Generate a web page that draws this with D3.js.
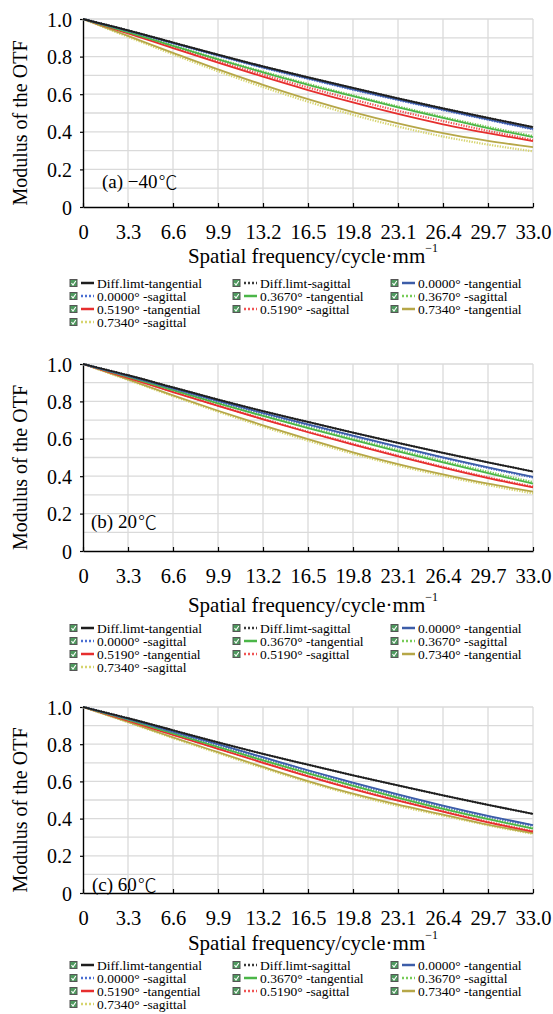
<!DOCTYPE html>
<html><head><meta charset="utf-8">
<script src="https://cdn.jsdelivr.net/npm/d3@7"></script>
<style>html,body{margin:0;padding:0;background:#fff;}svg{display:block;}
svg text{font-family:"Liberation Serif","Tinos","Times New Roman",serif;}</style>
</head><body>
<script>
// ---------- DATA ----------
const freq = [0, 3.3, 6.6, 9.9, 13.2, 16.5, 19.8, 23.1, 26.4, 29.7, 33.0];
const xTickLabels = ["0","3.3","6.6","9.9","13.2","16.5","19.8","23.1","26.4","29.7","33.0"];
const yTickValues = [0, 0.2, 0.4, 0.6, 0.8, 1.0];
const yTickLabels = ["0","0.2","0.4","0.6","0.8","1.0"];
const seriesNames = ["Diff.limt-tangential","Diff.limt-sagittal","0.0000° -tangential",
  "0.0000° -sagittal","0.3670° -tangential","0.3670° -sagittal",
  "0.5190° -tangential","0.5190° -sagittal","0.7340° -tangential","0.7340° -sagittal"];
const panelLabels = ["(a) \u221240", "(b) 20", "(c) 60"];
const degreeUnit = "\u2103";

// diffraction limit (same in all panels)
const diffT = [1, .94, .875, .81, .748, .69, .633, .578, .525, .474, .425];
const diffS = [1, .94, .875, .81, .748, .69, .633, .578, .525, .474, .425];

// (a) -40 C
const a000T = [1, .938, .872, .806, .743, .684, .626, .571, .518, .466, .415];
const a000S = [1, .937, .871, .805, .741, .682, .624, .569, .516, .464, .413];
const a367T = [1, .930, .857, .785, .716, .650, .590, .530, .474, .420, .372];
const a367S = [1, .931, .859, .788, .720, .655, .594, .535, .479, .426, .378];
const a519T = [1, .924, .845, .768, .693, .622, .556, .495, .440, .393, .350];
const a519S = [1, .927, .851, .776, .704, .636, .572, .512, .457, .405, .357];
const a734T = [1, .910, .820, .732, .650, .574, .505, .445, .393, .352, .318];
const a734S = [1, .905, .812, .722, .638, .560, .490, .428, .375, .332, .296];

// (b) 20 C
const b000T = [1, .937, .870, .803, .738, .677, .617, .558, .501, .447, .396];
const b000S = [1, .936, .869, .801, .736, .674, .614, .555, .498, .444, .393];
const b367T = [1, .932, .860, .790, .722, .657, .594, .533, .474, .416, .360];
const b367S = [1, .933, .862, .793, .726, .662, .600, .540, .481, .424, .368];
const b519T = [1, .926, .850, .776, .704, .635, .569, .506, .446, .390, .340];
const b519S = [1, .927, .852, .778, .707, .638, .573, .510, .450, .394, .344];
const b734T = [1, .918, .832, .750, .672, .598, .528, .465, .410, .360, .318];
const b734S = [1, .915, .828, .745, .665, .590, .520, .457, .402, .352, .308];

// (c) 60 C
const c000T = [1, .937, .868, .800, .730, .660, .594, .530, .470, .415, .365];
const c000S = [1, .936, .866, .797, .727, .657, .590, .526, .466, .411, .362];
const c367T = [1, .932, .858, .785, .713, .643, .576, .512, .452, .397, .346];
const c367S = [1, .933, .860, .788, .717, .648, .581, .517, .457, .401, .350];
const c519T = [1, .927, .850, .775, .700, .627, .559, .496, .437, .380, .330];
const c519S = [1, .928, .852, .777, .703, .630, .562, .499, .440, .383, .333];
const c734T = [1, .920, .837, .757, .678, .602, .534, .475, .422, .368, .322];
const c734S = [1, .918, .833, .752, .672, .596, .528, .468, .416, .364, .318];

// ---------- STYLES ----------
const seriesColors = ["#1e1e1e","#3a3a3a","#3d5da8","#4b6fd2","#4bb648","#78cc58",
  "#e62e2e","#f05454","#b6a748","#d6d46e"];
const seriesDotted = [false,true,false,true,false,true,false,true,false,true];

const panelSeries = [
  [diffT, diffS, a000T, a000S, a367T, a367S, a519T, a519S, a734T, a734S],
  [diffT, diffS, b000T, b000S, b367T, b367S, b519T, b519S, b734T, b734S],
  [diffT, diffS, c000T, c000S, c367T, c367S, c519T, c519S, c734T, c734S]
];

// layout per panel
const layout = [
  {y1: 19,  y0: 207, titleDy: 49, legDy: 76, lab: {x: 102, y: 181}},
  {y1: 364, y0: 551, titleDy: 54, legDy: 77, lab: {x: 91,  y: 521}},
  {y1: 707, y0: 893, titleDy: 50, legDy: 72, lab: {x: 92,  y: 884}}
];
const X0 = 83, X1 = 533;
const FONT = "Liberation Serif, Tinos, Times New Roman, serif";
const CJK = "Noto Sans CJK SC, Noto Sans CJK JP, serif";

const svg = d3.select("body").append("svg").attr("width", 553).attr("height", 1014);

const x = d3.scaleLinear().domain([0, 33]).range([X0, X1]);
const gridY = d3.range(0, 11).map(i => i / 10);

function styleText(sel, size) {
  sel.style("font-family", FONT).style("font-size", size + "px").attr("fill", "#000");
  return sel;
}

layout.forEach((L, pi) => {
  const y = d3.scaleLinear().domain([0, 1]).range([L.y0, L.y1]);
  const g = svg.append("g");

  // grid
  g.selectAll("line.gy").data(gridY.slice(1)).join("line")
    .attr("x1", X0).attr("x2", X1).attr("y1", d => y(d)).attr("y2", d => y(d))
    .attr("stroke", "#dadada").attr("stroke-width", 1.3);
  g.selectAll("line.gx").data(freq.slice(1)).join("line")
    .attr("x1", d => x(d)).attr("x2", d => x(d)).attr("y1", L.y0).attr("y2", L.y1)
    .attr("stroke", "#dadada").attr("stroke-width", 1.3);

  // axes
  const xAxis = d3.axisBottom(x).tickValues(freq).tickFormat((d, i) => xTickLabels[i])
    .tickSizeInner(-4).tickSizeOuter(0).tickPadding(16);
  const gx = g.append("g").attr("transform", `translate(0,${L.y0})`).call(xAxis);
  gx.attr("font-family", null).attr("font-size", null);
  gx.select(".domain").attr("stroke", "#000").attr("stroke-width", 1.4);
  gx.selectAll(".tick line").attr("stroke", "#000").attr("stroke-width", 1.2);
  styleText(gx.selectAll(".tick text").attr("dy", null).attr("y", 25).attr("dominant-baseline", "central"), 20.5);

  const yAxis = d3.axisLeft(y).tickValues(yTickValues).tickFormat((d, i) => yTickLabels[i])
    .tickSizeInner(3).tickSizeOuter(0).tickPadding(8);
  const gy = g.append("g").attr("transform", `translate(${X0},0)`).call(yAxis);
  gy.attr("font-family", null).attr("font-size", null);
  gy.select(".domain").attr("stroke", "#000").attr("stroke-width", 1.4);
  gy.selectAll(".tick line").attr("stroke", "#000").attr("stroke-width", 1.2);
  styleText(gy.selectAll(".tick text").attr("dy", null).attr("dominant-baseline", "central"), 20);

  // curves
  const line = d3.line().x((d, i) => x(freq[i])).y(d => y(d)).curve(d3.curveMonotoneX);
  const order = d3.range(seriesNames.length).reverse();
  order.forEach(si => {
    g.append("path").datum(panelSeries[pi][si])
      .attr("d", line).attr("fill", "none")
      .attr("stroke", seriesColors[si])
      .attr("stroke-width", seriesDotted[si] ? 2.2 : 1.8)
      .attr("stroke-dasharray", seriesDotted[si] ? "1.3,1.3" : null);
  });

  // panel label
  const pl = styleText(g.append("text").attr("x", L.lab.x).attr("y", L.lab.y)
    .attr("dominant-baseline", "central"), 19);
  pl.append("tspan").text(panelLabels[pi]);
  pl.append("tspan").style("font-family", CJK).style("font-weight", 300).attr("dx", 1).text(degreeUnit);

  // y title
  const yc = (L.y0 + L.y1) / 2 + 10;
  styleText(g.append("text").attr("transform", `translate(20,${yc}) rotate(-90)`)
    .attr("text-anchor", "middle").attr("dominant-baseline", "central")
    .text("Modulus of the OTF"), 20);

  // x title
  const xt = g.append("text").attr("x", (X0 + X1) / 2 + 5).attr("y", L.y0 + L.titleDy)
    .attr("text-anchor", "middle").attr("dominant-baseline", "central");
  styleText(xt, 21);
  xt.append("tspan").text("Spatial frequency/cycle\u00b7mm");
  xt.append("tspan").style("font-size", "12px").attr("dy", -8).text("\u22121");

  // legend
  const colX = [70, 233, 391];
  seriesNames.forEach((name, si) => {
    const col = si % 3, row = Math.floor(si / 3);
    const lx = colX[col], ly = L.y0 + L.legDy + row * 13;
    const lg = g.append("g").attr("transform", `translate(${lx},${ly})`);
    lg.append("rect").attr("x", 0).attr("y", -3.5).attr("width", 7).attr("height", 7)
      .attr("fill", "#4e9a5e").attr("stroke", "#555").attr("stroke-width", 1);
    lg.append("path").attr("d", "M1.5,0 L3,2 L5.8,-2").attr("fill", "none")
      .attr("stroke", "#fff").attr("stroke-width", 1.1);
    lg.append("line").attr("x1", 11).attr("x2", 24).attr("y1", 0).attr("y2", 0)
      .attr("stroke", seriesColors[si]).attr("stroke-width", 2.5)
      .attr("stroke-dasharray", seriesDotted[si] ? "2,2" : null);
    styleText(lg.append("text").attr("x", 27).attr("y", 0).attr("dominant-baseline", "central")
      .text(name), 13.5);
  });
});
</script>
</body></html>
